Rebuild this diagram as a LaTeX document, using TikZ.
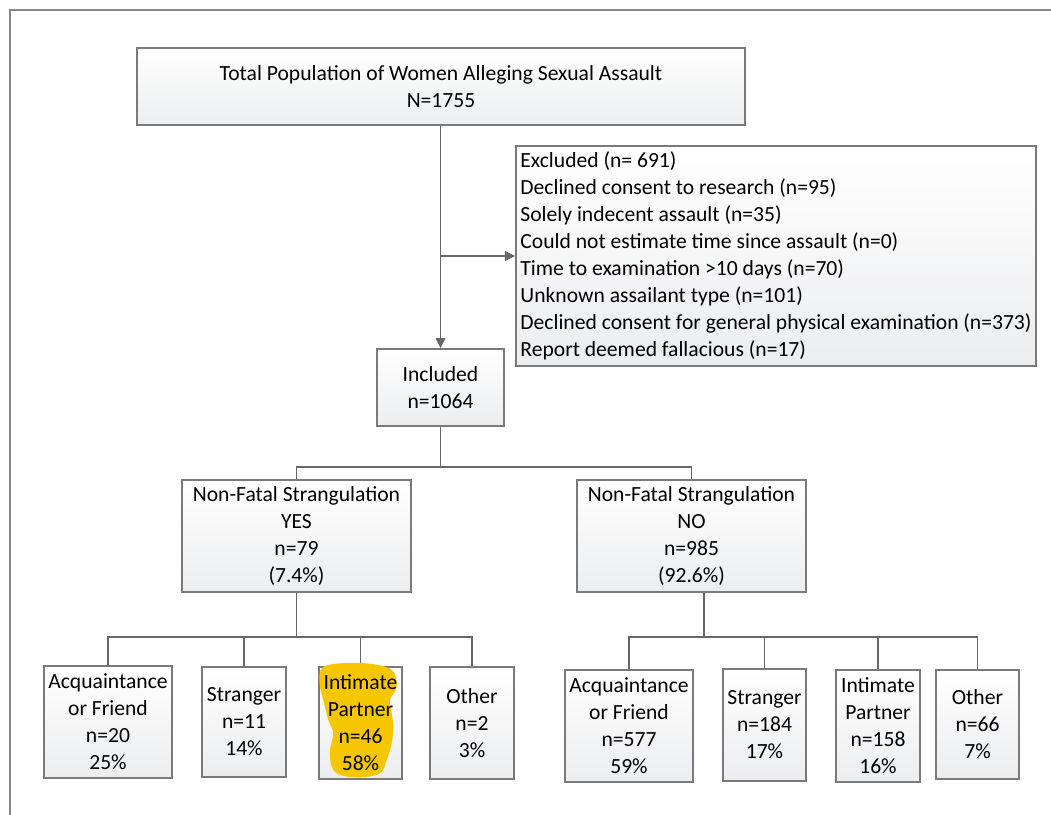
\documentclass[tikz,border=0pt]{standalone}
\usepackage{fontspec}
\setmainfont{Carlito}
\usetikzlibrary{arrows.meta, positioning, calc}
\definecolor{boxline}{HTML}{7A7A7A}
\definecolor{wireline}{HTML}{666666}
\definecolor{boxfill}{HTML}{ECEDEF}
\definecolor{marker}{HTML}{F6C700}
\tikzset{
  every picture/.style={line width=1.4pt},
  every node/.style={font=\fontsize{16.2pt}{20.2pt}\selectfont},
  flowbox/.style={draw=boxline, line width=1.3pt, top color=white, bottom color=boxfill, align=center, inner sep=0pt},
  boxsize/.style 2 args={minimum width=#1*0.75pt, minimum height=#2*0.75pt},
  wire/.style={draw=wireline, line width=1.4pt},
  arrowwire/.style={wire, -{Triangle[length=7.5pt, width=7pt]}}
}

\begin{document}
\begin{tikzpicture}[x=0.75pt, y=-0.75pt]
    \useasboundingbox (0,0) rectangle (1051,815);
    % frame
    \draw[draw=boxline!90, line width=1.5pt] (10,815) -- (10,10) -- (1051,10);

    \node[flowbox, boxsize={608}{77}] (total) at (441,86.5) {Total Population of Women Alleging Sexual Assault\\N=1755};
    \node[flowbox, boxsize={520}{220}, align=left] (excl) at (776,256) {Excluded (n= 691)\\Declined consent to research (n=95)\\Solely indecent assault (n=35)\\Could not estimate time since assault (n=0)\\Time to examination >10 days (n=70)\\Unknown assailant type (n=101)\\Declined consent for general physical examination (n=373)\\Report deemed fallacious (n=17)};
    \node[flowbox, boxsize={127}{77}] (incl) at (440.5,387.5) {Included\\n=1064};

    \node[flowbox, boxsize={229}{112}] (yes) at (296.5,536) {Non-Fatal Strangulation\\YES\\n=79\\(7.4\%)};
    \node[flowbox, boxsize={229}{112}] (no) at (691.5,536) {Non-Fatal Strangulation\\NO\\n=985\\(92.6\%)};

    % YES branch
    \node[flowbox, boxsize={128}{112}] (ya) at (108,722) {Acquaintance\\or Friend\\n=20\\25\%};
    \node[flowbox, boxsize={84}{110}] (ys) at (244,722) {Stranger\\n=11\\14\%};
    \node[flowbox, boxsize={83}{112}] (yi) at (360.5,723) {};
    \node[flowbox, boxsize={84}{112}] (yo) at (472,723) {Other\\n=2\\3\%};

    % NO branch
    \node[flowbox, boxsize={128}{112}] (na) at (629,726) {Acquaintance\\or Friend\\n=577\\59\%};
    \node[flowbox, boxsize={83}{112}] (ns) at (764.5,725) {Stranger\\n=184\\17\%};
    \node[flowbox, boxsize={84}{112}] (ni) at (878,726) {Intimate\\Partner\\n=158\\16\%};
    \node[flowbox, boxsize={83}{109}] (nx) at (977.5,724.5) {Other\\n=66\\7\%};

    \coordinate (split) at (440.5,256);
    \coordinate (midbar) at (440.5,467);
    \coordinate (yesbar) at (296.5,637);
    \coordinate (nobar) at (704,637);

    \draw[arrowwire] (total.south -| incl.north) -- (incl.north);
    \draw[arrowwire] (split) -- (excl.west);

    \draw[wire] (incl.south) -- (midbar);
    \draw[wire] (yes.north) |- (midbar) -| (no.north);

    \draw[wire] (yes.south) -- (yesbar);
    \draw[wire] (ya.north) |- (yesbar) -| (yo.north);
    \draw[wire] (ys.north) -- (ys.north |- yesbar);
    \draw[wire] (yi.north) -- (yi.north |- yesbar);

    \draw[wire] (nobar |- no.south) -- (nobar);
    \draw[wire] (na.north) |- (nobar) -| (nx.north);
    \draw[wire] (ns.north) -- (ns.north |- nobar);
    \draw[wire] (ni.north) -- (ni.north |- nobar);

    % highlighter mark
    \fill[marker] plot[smooth cycle, tension=0.6] coordinates {(320.7,670) (333.3,664) (366.7,663.3) (391.7,670) (396.7,686.7) (390,700) (391.7,713.3) (393.3,726.7) (391.7,743.3) (386.7,760) (380,773.3) (360,777.3) (340,775) (331.7,766.7) (330,750) (333.3,733.3) (328.3,720) (323.3,700) (320,686.7)};
    \node[align=center] (yitext) at (yi.center) {Intimate\\Partner\\n=46\\58\%};
  \end{tikzpicture}
\end{document}
